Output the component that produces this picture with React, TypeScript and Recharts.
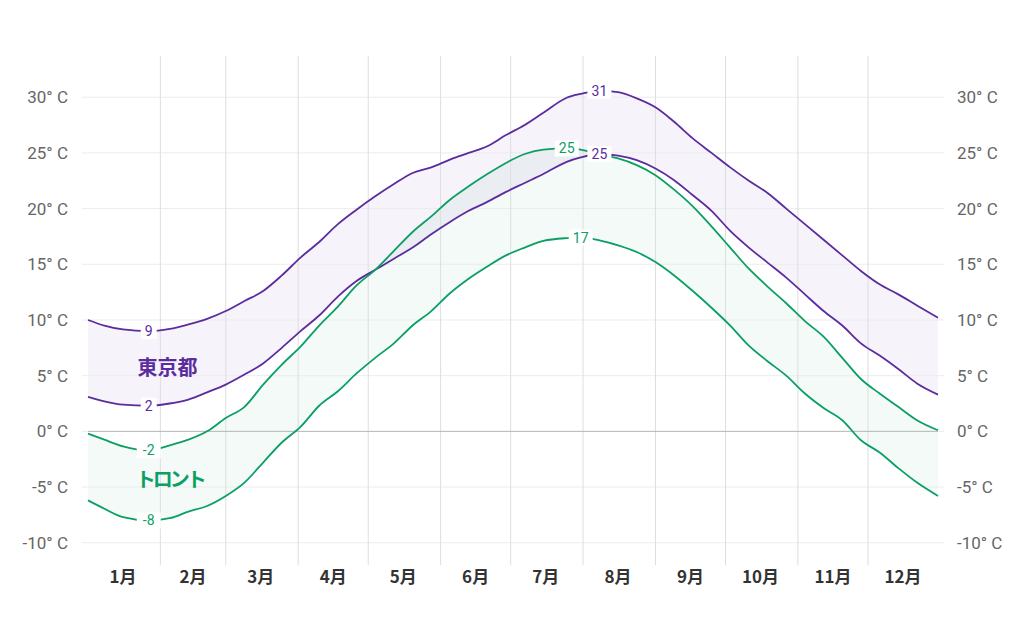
import {
  ComposedChart,
  Area,
  Line,
  XAxis,
  YAxis,
  ReferenceLine,
  ReferenceDot,
} from 'recharts';

const days = [
  1, 8, 16, 27, 36, 44, 52, 60, 68, 76, 84, 92, 100, 108, 116, 124, 132, 140, 148, 156, 164, 172, 180,
  188, 196, 206, 212, 220, 228, 236, 244, 252, 260, 268, 276, 284, 292, 300, 308, 316, 324, 332, 340,
  348, 356, 365,
];

const tokyoHigh = [
  10.0, 9.5, 9.15, 9.0, 9.2, 9.6, 10.1, 10.8, 11.7, 12.6, 14.0, 15.6, 17.0, 18.6, 19.9, 21.1, 22.2,
  23.2, 23.7, 24.4, 25.0, 25.6, 26.6, 27.5, 28.6, 29.95, 30.3, 30.6, 30.45, 29.9, 29.1, 27.8, 26.3,
  25.0, 23.7, 22.5, 21.4, 20.0, 18.6, 17.2, 15.8, 14.4, 13.2, 12.3, 11.3, 10.2,
];

const tokyoLow = [
  3.1, 2.7, 2.4, 2.3, 2.5, 2.85, 3.5, 4.2, 5.1, 6.1, 7.5, 9.0, 10.4, 12.1, 13.5, 14.5, 15.5, 16.5,
  17.7, 18.8, 19.8, 20.6, 21.5, 22.3, 23.1, 24.2, 24.6, 24.9, 24.75, 24.35, 23.6, 22.55, 21.2, 19.8,
  18.0, 16.5, 15.15, 13.8, 12.3, 10.8, 9.5, 7.9, 6.8, 5.6, 4.3, 3.3,
];

const torontoHigh = [
  -0.2, -0.75, -1.35, -1.7, -1.25, -0.75, 0.0, 1.2, 2.2, 4.2, 6.0, 7.6, 9.5, 11.2, 13.1, 14.5, 16.2,
  17.9, 19.3, 20.8, 22.0, 23.1, 24.1, 24.9, 25.3, 25.4, 25.3, 24.85, 24.5, 23.9, 23.0, 21.7, 20.2,
  18.4, 16.5, 14.6, 13.0, 11.5, 9.9, 8.5, 6.6, 4.7, 3.4, 2.2, 1.0, 0.1,
];

const torontoLow = [
  -6.2, -6.95, -7.7, -8.0, -7.8, -7.2, -6.7, -5.8, -4.6, -2.8, -1.0, 0.4, 2.3, 3.6, 5.2, 6.6, 7.9,
  9.5, 10.8, 12.4, 13.7, 14.8, 15.8, 16.5, 17.1, 17.35, 17.4, 17.15, 16.7, 16.1, 15.2, 14.0, 12.6,
  11.1, 9.5, 7.7, 6.3, 5.0, 3.4, 2.1, 1.0, -0.8, -1.9, -3.3, -4.6, -5.8,
];

const monthStarts = [32, 60, 91, 121, 152, 182, 213, 244, 274, 305, 335];
const monthMids = [16, 46, 75, 106, 136, 167, 197, 228, 259, 289, 320, 350];
const monthLabels = ['1月', '2月', '3月', '4月', '5月', '6月', '7月', '8月', '9月', '10月', '11月', '12月'];
const yTicks = [-10, -5, 0, 5, 10, 15, 20, 25, 30];

const PURPLE = '#5b2c9e';
const GREEN = '#0b9f63';

const rows = days.map((d, i) => ({
  day: d,
  tokyoHigh: tokyoHigh[i],
  tokyoLow: tokyoLow[i],
  torontoHigh: torontoHigh[i],
  torontoLow: torontoLow[i],
  tokyoRange: [tokyoLow[i], tokyoHigh[i]],
  torontoRange: [torontoLow[i], torontoHigh[i]],
}));

const fmtTemp = (v: number) => `${v}° C`;

// 最小・最大の点にだけ値ラベルを出す（線を白抜き）
function extremeLabel(values: number[], color: string) {
  const lo = values.indexOf(Math.min(...values));
  const hi = values.indexOf(Math.max(...values));
  return (props: any) => {
    const { x, y, index } = props;
    if (index !== lo && index !== hi) return <g key={`n-${index}`} />;
    const text = String(Math.round(values[index]));
    const w = text.length * 8 + 8;
    return (
      <g key={`l-${index}`}>
        <rect x={x - w / 2} y={y - 8} width={w} height={16} fill="#fff" />
        <text
          x={x}
          y={y}
          dy="0.36em"
          textAnchor="middle"
          fill={color}
          fontSize={14}
          fontFamily="Roboto, sans-serif"
        >
          {text}
        </text>
      </g>
    );
  };
}

const yTick = { fill: '#666', fontSize: 17, fontFamily: 'Roboto, sans-serif' };

export default function App() {
  return (
    <div style={{ width: 1008, height: 616 }}>
      <ComposedChart width={1008} height={616} data={rows} margin={{ top: 48, right: 8, bottom: 29, left: 20 }}>
        <XAxis
          dataKey="day"
          type="number"
          domain={[1, 365]}
          ticks={monthMids}
          interval={0}
          tickFormatter={(v: number, i: number) => monthLabels[i]}
          axisLine={false}
          tickLine={false}
          tickSize={0}
          tickMargin={6}
          height={30}
          tick={{ fill: '#333', fontSize: 17, fontWeight: 700, fontFamily: '"Noto Sans CJK JP", sans-serif' }}
        />
        <YAxis
          domain={[-12, 33.7]}
          ticks={yTicks}
          allowDataOverflow
          width={60}
          tickSize={6}
          tickMargin={14}
          axisLine={false}
          tickLine={{ stroke: '#ececec' }}
          tick={yTick}
          tickFormatter={fmtTemp}
        />
        <YAxis
          yAxisId="right"
          orientation="right"
          domain={[-12, 33.7]}
          ticks={yTicks}
          allowDataOverflow
          width={70}
          tickSize={6}
          tickMargin={13}
          axisLine={false}
          tickLine={{ stroke: '#ececec' }}
          tick={yTick}
          tickFormatter={fmtTemp}
        />
        {/* 横の目盛り線と月の境目 */}
        {yTicks
          .filter((t) => t !== 0)
          .map((t) => (
            <ReferenceLine key={`t-${t}`} y={t} stroke="#ececec" />
          ))}
        {monthStarts.map((d) => (
          <ReferenceLine key={`m-${d}`} x={d} stroke="#dedede" />
        ))}
        <ReferenceLine y={0} stroke="#b5b5b5" />
        <Area
          dataKey="tokyoRange"
          type="monotone"
          stroke="none"
          fill={PURPLE}
          fillOpacity={0.055}
          isAnimationActive={false}
        />
        <Area
          dataKey="torontoRange"
          type="monotone"
          stroke="none"
          fill={GREEN}
          fillOpacity={0.05}
          isAnimationActive={false}
        />
        <Line dataKey="tokyoHigh" type="monotone" stroke={PURPLE} strokeWidth={1.8} dot={false} activeDot={false} isAnimationActive={false} />
        <Line dataKey="tokyoLow" type="monotone" stroke={PURPLE} strokeWidth={1.8} dot={false} activeDot={false} isAnimationActive={false} />
        <Line dataKey="torontoHigh" type="monotone" stroke={GREEN} strokeWidth={1.8} dot={false} activeDot={false} isAnimationActive={false} />
        <Line dataKey="torontoLow" type="monotone" stroke={GREEN} strokeWidth={1.8} dot={false} activeDot={false} isAnimationActive={false} />
        {/* ラベル専用（全ての線の上に描く） */}
        <Line dataKey="tokyoHigh" stroke="none" dot={false} activeDot={false} isAnimationActive={false} label={extremeLabel(tokyoHigh, PURPLE)} />
        <Line dataKey="tokyoLow" stroke="none" dot={false} activeDot={false} isAnimationActive={false} label={extremeLabel(tokyoLow, PURPLE)} />
        <Line dataKey="torontoHigh" stroke="none" dot={false} activeDot={false} isAnimationActive={false} label={extremeLabel(torontoHigh, GREEN)} />
        <Line dataKey="torontoLow" stroke="none" dot={false} activeDot={false} isAnimationActive={false} label={extremeLabel(torontoLow, GREEN)} />
        <ReferenceDot
          x={35}
          y={5.7}
          r={0}
          fill="none"
          stroke="none"
          label={{ value: '東京都', position: 'center', fill: PURPLE, fontSize: 20, fontWeight: 700, fontFamily: '"Noto Sans CJK JP", sans-serif' }}
        />
        <ReferenceDot
          x={36}
          y={-4.4}
          r={0}
          fill="none"
          stroke="none"
          label={{ value: 'トロント', position: 'center', fill: GREEN, fontSize: 20, fontWeight: 700, letterSpacing: -3, fontFamily: '"Noto Sans CJK JP", sans-serif' }}
        />
      </ComposedChart>
    </div>
  );
}
